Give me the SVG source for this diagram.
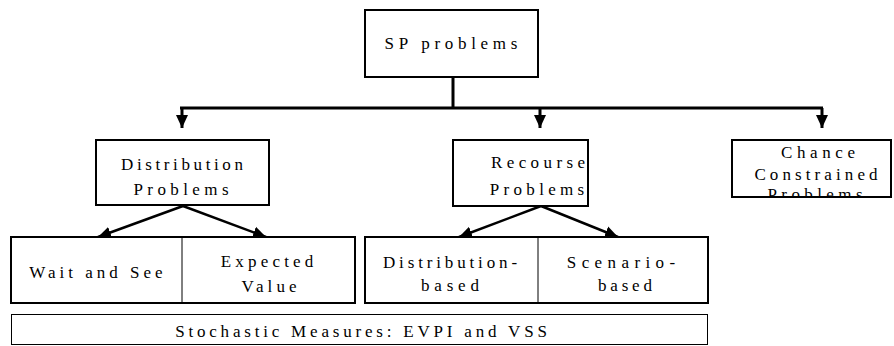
<svg xmlns="http://www.w3.org/2000/svg" width="894" height="346" viewBox="0 0 894 346">
  <defs>
    <marker id="arrow" markerUnits="userSpaceOnUse" markerWidth="14" markerHeight="14" viewBox="0 0 14 14" refX="13" refY="7" orient="auto">
      <path d="M0,1 L13,7 L0,13 Z" fill="#000"/>
    </marker>
    <clipPath id="chanceClip">
      <rect x="733" y="141" width="157" height="55"/>
    </clipPath>
  </defs>
  <style>
    .box { fill: #fff; stroke: #000; stroke-width: 2; }
    .thin { fill: #fff; stroke: #000; stroke-width: 1; }
    .div { stroke: #000; stroke-width: 1; }
    .wire { fill: none; stroke: #000; stroke-width: 3; }
    .diag { fill: none; stroke: #000; stroke-width: 2.5; }
  </style>

  <rect width="894" height="346" fill="#fff"/>

  <g id="connectors">
    <path class="wire" d="M453,77 V108 M180,108 H823"/>
    <path class="wire" d="M182,108 V128" marker-end="url(#arrow)"/>
    <path class="wire" d="M540,108 V128" marker-end="url(#arrow)"/>
    <path class="wire" d="M822,108 V128" marker-end="url(#arrow)"/>
    <path class="diag" d="M183,206 L98,237" marker-end="url(#arrow)"/>
    <path class="diag" d="M183,206 L266,237" marker-end="url(#arrow)"/>
    <path class="diag" d="M541,206 L459,237" marker-end="url(#arrow)"/>
    <path class="diag" d="M541,206 L618,237" marker-end="url(#arrow)"/>
  </g>

  <!-- wide tracking is set per glyph with dx lists -->
  <g font-family="Liberation Serif" font-size="17" text-anchor="middle" fill="#000">
    <g id="sp-problems">
      <rect class="box" x="365" y="10" width="173" height="67"/>
      <text x="451" y="49" dx="0 4.7 4.7 4.7 4.7 4.7 4.7 4.7 4.7 4.7 4.7">SP problems</text>
    </g>

    <g id="distribution-problems">
      <rect class="box" x="96" y="140" width="173" height="65"/>
      <text x="182" y="170" dx="0 3.6 3.6 3.6 3.6 3.6 3.6 3.6 3.6 3.6 3.6 3.6">Distribution</text>
      <text x="181" y="195" dx="0 4.4 4.4 4.4 4.4 4.4 4.4 4.4">Problems</text>
    </g>

    <g id="recourse-problems">
      <rect class="box" x="453" y="140" width="135" height="66"/>
      <text x="538" y="168" dx="0 4.4 4.4 4.4 4.4 4.4 4.4 4.4">Recourse</text>
      <text x="537" y="195" dx="0 4.3 4.3 4.3 4.3 4.3 4.3 4.3">Problems</text>
    </g>

    <g id="chance-constrained">
      <rect class="box" x="732" y="140" width="159" height="57"/>
      <g clip-path="url(#chanceClip)">
        <text x="818" y="158" dx="0 4.6 4.6 4.6 4.6 4.6">Chance</text>
        <text x="816" y="180" dx="0 4.1 4.1 4.1 4.1 4.1 4.1 4.1 4.1 4.1 4.1">Constrained</text>
        <text x="815" y="200" dx="0 4.4 4.4 4.4 4.4 4.4 4.4 4.4">Problems</text>
      </g>
    </g>

    <g id="distribution-methods">
      <rect class="box" x="11" y="237" width="344" height="66"/>
      <line class="div" x1="182" y1="237" x2="182" y2="303"/>
      <text x="96" y="278" dx="0 4 4 4 4 4 4 4 4 4 4 4">Wait and See</text>
      <text x="267" y="267" dx="0 4.2 4.2 4.2 4.2 4.2 4.2 4.2">Expected</text>
      <text x="269" y="292" dx="0 4.1 4.1 4.1 4.1">Value</text>
    </g>

    <g id="recourse-methods">
      <rect class="box" x="365" y="237" width="343" height="66"/>
      <line class="div" x1="538" y1="237" x2="538" y2="303"/>
      <text x="450" y="268" dx="0 3.85 3.85 3.85 3.85 3.85 3.85 3.85 3.85 3.85 3.85 3.85 3.85">Distribution-</text>
      <text x="450" y="291" dx="0 4.8 4.8 4.8 4.8">based</text>
      <text x="621" y="268" dx="0 5.4 5.4 5.4 5.4 5.4 5.4 5.4 5.4">Scenario-</text>
      <text x="625" y="291" dx="0 3.8 3.8 3.8 3.8">based</text>
    </g>

    <g id="stochastic-measures">
      <rect class="thin" x="11.5" y="314.5" width="696" height="30"/>
      <text x="361" y="337" dx="0 3.8 3.8 3.8 3.8 3.8 3.8 3.8 3.8 3.8 3.8 3.8 3.8 3.8 3.8 3.8 3.8 3.8 3.8 3.8 3.8 3.8 3.8 3.8 3.8 3.8 3.8 3.8 3.8 3.8 3.8 3.8 3.8">Stochastic Measures: EVPI and VSS</text>
    </g>
  </g>
</svg>
